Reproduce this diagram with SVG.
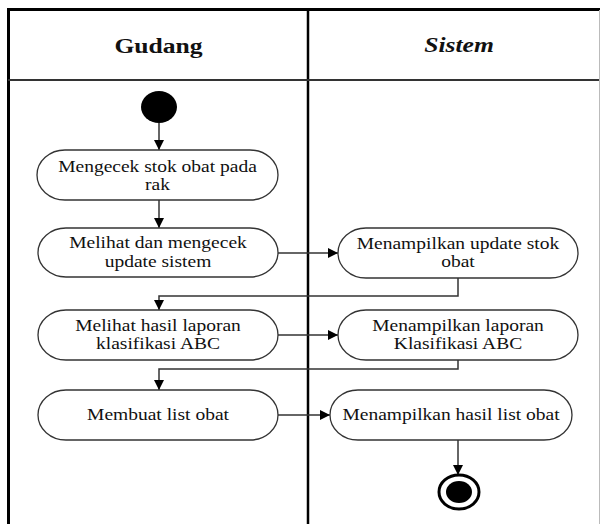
<svg xmlns="http://www.w3.org/2000/svg" width="601" height="524" viewBox="0 0 601 524">
<style>
.lane{stroke:#000;fill:none}
.act{fill:#fff;stroke:#333;stroke-width:1.3}
.t{font-family:'Liberation Serif','Times New Roman',Tinos,'DejaVu Serif',serif;font-size:16px;fill:#111;text-anchor:middle}
.h{font-family:'Liberation Serif','Times New Roman',Tinos,'DejaVu Serif',serif;font-size:21px;font-weight:bold;fill:#111;text-anchor:middle}
.c{fill:none;stroke:#333;stroke-width:1.5}
</style>
<defs>
<marker id="arr" viewBox="0 0 10 10" refX="10" refY="5" markerWidth="10" markerHeight="10" markerUnits="userSpaceOnUse" orient="auto">
<path d="M0,0 L10,5 L0,10 Z" fill="#000"/>
</marker>
</defs>
<rect width="601" height="524" fill="#fff"/>
<g id="swimlanes">
<line class="lane" x1="7" y1="9.5" x2="600" y2="9.5" stroke-width="3"/>
<line class="lane" x1="8.5" y1="8" x2="8.5" y2="524" stroke-width="3"/>
<line class="lane" x1="308" y1="8" x2="308" y2="524" stroke-width="2.5"/>
<line x1="8" y1="80" x2="600" y2="80" stroke="#333" stroke-width="2"/>
<line x1="599.5" y1="10" x2="599.5" y2="524" stroke="#bbb" stroke-width="1"/>
<text class="h" font-family="Liberation Serif, serif" transform="matrix(1.22 0 0 1 158.5 53)">Gudang</text>
<text class="h" font-family="Liberation Serif, serif" transform="matrix(1.22 0 0 1 459 52)" font-style="italic">Sistem</text>
</g>
<g id="connectors">
<line class="c" x1="159" y1="123" x2="159" y2="150" marker-end="url(#arr)"/>
<line class="c" x1="159" y1="200" x2="159" y2="228" marker-end="url(#arr)"/>
<line class="c" x1="278" y1="253" x2="338" y2="253" marker-end="url(#arr)"/>
<polyline class="c" points="458,278 458,296 159,296 159,310" marker-end="url(#arr)"/>
<line class="c" x1="278" y1="335" x2="338" y2="335" marker-end="url(#arr)"/>
<polyline class="c" points="458,360 458,369 159,369 159,390" marker-end="url(#arr)"/>
<line class="c" x1="278" y1="415" x2="330" y2="415" marker-end="url(#arr)"/>
<line class="c" x1="458" y1="440" x2="458" y2="475" marker-end="url(#arr)"/>
</g>
<g id="start"><ellipse cx="159" cy="107" rx="18" ry="16" fill="#000"/></g>
<g id="n1">
<rect class="act" x="37" y="150" width="241" height="50" rx="28" ry="25"/>
<text class="t" transform="matrix(1.22 0 0 1 157.5 171.5)">Mengecek stok obat pada</text>
<text class="t" transform="matrix(1.22 0 0 1 157.5 190)">rak</text>
</g>
<g id="n2">
<rect class="act" x="38" y="228" width="240" height="49" rx="28" ry="24.5"/>
<text class="t" transform="matrix(1.22 0 0 1 158 248)">Melihat dan mengecek</text>
<text class="t" transform="matrix(1.22 0 0 1 158 266.5)">update sistem</text>
</g>
<g id="r1">
<rect class="act" x="338" y="228" width="240" height="50" rx="28" ry="25"/>
<text class="t" transform="matrix(1.22 0 0 1 458 248.5)">Menampilkan update stok</text>
<text class="t" transform="matrix(1.22 0 0 1 458 267)">obat</text>
</g>
<g id="n3">
<rect class="act" x="38" y="310" width="240" height="50" rx="28" ry="25"/>
<text class="t" transform="matrix(1.22 0 0 1 158 330.5)">Melihat hasil laporan</text>
<text class="t" transform="matrix(1.22 0 0 1 158 349)">klasifikasi ABC</text>
</g>
<g id="r2">
<rect class="act" x="338" y="310" width="240" height="50" rx="28" ry="25"/>
<text class="t" transform="matrix(1.22 0 0 1 458 330.5)">Menampilkan laporan</text>
<text class="t" transform="matrix(1.22 0 0 1 458 349)">Klasifikasi ABC</text>
</g>
<g id="n4">
<rect class="act" x="38" y="390" width="240" height="50" rx="28" ry="25"/>
<text class="t" transform="matrix(1.22 0 0 1 158 420)">Membuat list obat</text>
</g>
<g id="r3">
<rect class="act" x="330" y="390" width="242" height="50" rx="28" ry="25"/>
<text class="t" transform="matrix(1.22 0 0 1 451 420)">Menampilkan hasil list obat</text>
</g>
<g id="end">
<ellipse cx="459" cy="492" rx="20" ry="17" fill="#fff" stroke="#000" stroke-width="3"/>
<ellipse cx="459" cy="492" rx="13" ry="11" fill="#000"/>
</g>
</svg>
